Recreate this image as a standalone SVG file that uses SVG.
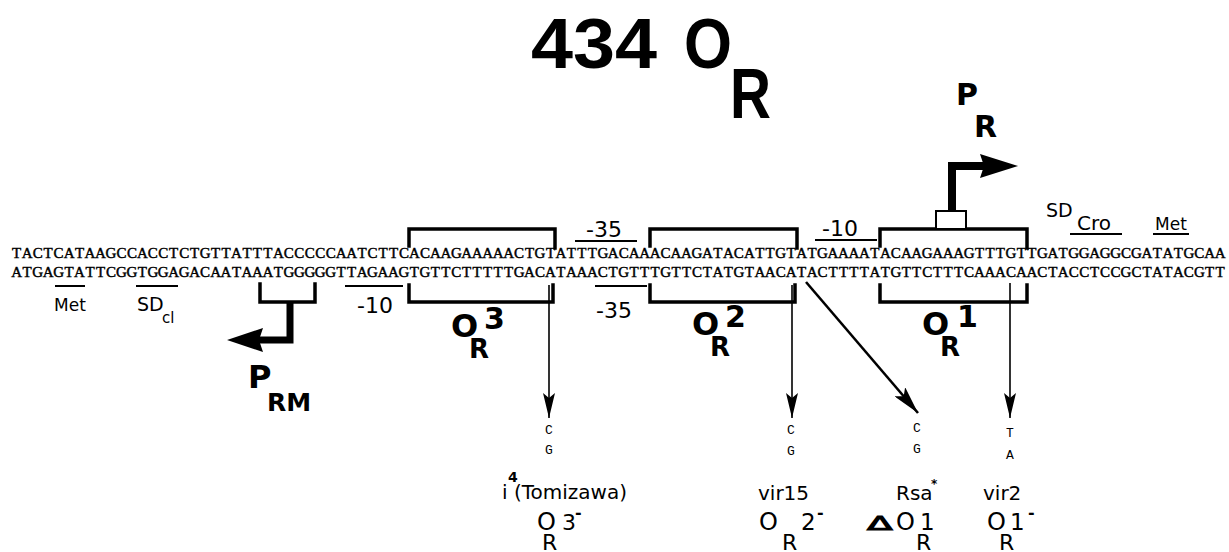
<svg xmlns="http://www.w3.org/2000/svg" width="1229" height="552" viewBox="0 0 1229 552">
<defs>
<style>
.seq{font-family:"Liberation Serif","Times New Roman",serif;font-size:15px;fill:#000;stroke:#000;stroke-width:0.45;text-anchor:middle}
.base{font-family:"Liberation Mono","Courier New",monospace;font-size:13px;fill:#000;text-anchor:middle}
.lbl{font-family:"DejaVu Sans","Liberation Sans",sans-serif;fill:#000}
.bold{font-weight:bold}
.title{font-family:"Liberation Sans",Arial,sans-serif;font-weight:bold;fill:#000}
.brk{fill:none;stroke:#000;stroke-width:3.5;stroke-linecap:square}
.ul{stroke:#000;stroke-width:2}
.thin{stroke:#000;stroke-width:1.6;fill:none}
.thick{stroke:#000;fill:none;stroke-linejoin:miter}
</style>
<marker id="ah" markerUnits="userSpaceOnUse" viewBox="0 0 25 12" refX="25" refY="6" markerWidth="25" markerHeight="12" orient="auto">
<path d="M0,0 L25,6 L0,12 L5,6 z" fill="#000"/>
</marker>
<marker id="ahBig" markerUnits="userSpaceOnUse" viewBox="0 0 28 14" refX="28" refY="7" markerWidth="28" markerHeight="14" orient="auto">
<path d="M0,0 L28,7 L0,14 L6,7 z" fill="#000"/>
</marker>
</defs>
<rect width="1229" height="552" fill="#fff"/>

<g id="title">
<text class="title" x="531" y="68" font-size="71" textLength="126" lengthAdjust="spacingAndGlyphs">434</text>
<text class="title" x="684" y="68" font-size="71" textLength="48" lengthAdjust="spacingAndGlyphs">O</text>
<text class="title" x="730" y="118" font-size="70" textLength="41" lengthAdjust="spacingAndGlyphs">R</text>
</g>

<g id="sequence">
<text class="seq" y="258" x="16.7 27.2 37.7 48.1 58.6 69.1 79.5 90 100.5 110.9 121.4 131.9 142.3 152.8 163.2 173.7 184.2 194.6 205.1 215.6 226 236.5 247 257.4 267.9 278.4 288.8 299.3 309.8 320.2 330.7 341.2 351.6 362.1 372.5 383 393.5 403.9 414.4 424.9 435.3 445.8 456.3 466.7 477.2 487.7 498.1 508.6 519.1 529.5 540 550.5 560.9 571.4 581.8 592.3 602.8 613.2 623.7 634.2 644.6 655.1 665.6 676 686.5 697 707.4 717.9 728.4 738.8 749.3 759.8 770.2 780.7 791.1 801.6 812.1 822.5 833 843.5 853.9 864.4 874.9 885.3 895.8 906.3 916.7 927.2 937.7 948.1 958.6 969.1 979.5 990 1000.4 1010.9 1021.4 1031.8 1042.3 1052.8 1063.2 1073.7 1084.2 1094.6 1105.1 1115.6 1126 1136.5 1147 1157.4 1167.9 1178.4 1188.8 1199.3 1209.7 1220.2">TACTCATAAGCCACCTCTGTTATTTACCCCCAATCTTCACAAGAAAAACTGTATTTGACAAACAAGATACATTGTATGAAAATACAAGAAAGTTTGTTGATGGAGGCGATATGCAA</text>
<text class="seq" y="277" x="16.7 27.2 37.7 48.1 58.6 69.1 79.5 90 100.5 110.9 121.4 131.9 142.3 152.8 163.2 173.7 184.2 194.6 205.1 215.6 226 236.5 247 257.4 267.9 278.4 288.8 299.3 309.8 320.2 330.7 341.2 351.6 362.1 372.5 383 393.5 403.9 414.4 424.9 435.3 445.8 456.3 466.7 477.2 487.7 498.1 508.6 519.1 529.5 540 550.5 560.9 571.4 581.8 592.3 602.8 613.2 623.7 634.2 644.6 655.1 665.6 676 686.5 697 707.4 717.9 728.4 738.8 749.3 759.8 770.2 780.7 791.1 801.6 812.1 822.5 833 843.5 853.9 864.4 874.9 885.3 895.8 906.3 916.7 927.2 937.7 948.1 958.6 969.1 979.5 990 1000.4 1010.9 1021.4 1031.8 1042.3 1052.8 1063.2 1073.7 1084.2 1094.6 1105.1 1115.6 1126 1136.5 1147 1157.4 1167.9 1178.4 1188.8 1199.3 1209.7 1220.2">ATGAGTATTCGGTGGAGACAATAAATGGGGGTTAGAAGTGTTCTTTTTGACATAAACTGTTTGTTCTATGTAACATACTTTTATGTTCTTTCAAACAACTACCTCCGCTATACGTT</text>
</g>

<g id="OR3">
<path class="brk" d="M409,246 V229 H555 V248"/>
<path class="brk" d="M409,285 V302 H553 V285"/>
<text class="lbl bold" x="451" y="337" font-size="32">O</text>
<text class="lbl bold" x="469" y="358" font-size="26">R</text>
<text class="lbl bold" x="484" y="329" font-size="30">3</text>
</g>

<g id="OR2">
<path class="brk" d="M650,246 V229 H797 V248"/>
<path class="brk" d="M650,285 V302 H795 V285"/>
<text class="lbl bold" x="692" y="335" font-size="32">O</text>
<text class="lbl bold" x="710" y="356" font-size="26">R</text>
<text class="lbl bold" x="725" y="327" font-size="30">2</text>
</g>

<g id="OR1">
<path class="brk" d="M880,246 V229 H1027 V248"/>
<path class="brk" d="M880,285 V302 H1027 V285"/>
<text class="lbl bold" x="922" y="335" font-size="32">O</text>
<text class="lbl bold" x="940" y="356" font-size="26">R</text>
<text class="lbl bold" x="957" y="327" font-size="30">1</text>
</g>

<g id="PR">
<rect x="936" y="211" width="30" height="18" fill="#fff" stroke="#000" stroke-width="2"/>
<path class="thick" stroke-width="8" d="M952,211 V166 H984"/>
<polygon points="1018,166 980,154 984,166 980,178" fill="#000"/>
<text class="lbl bold" x="956" y="105" font-size="30">P</text>
<text class="lbl bold" x="974" y="137" font-size="30">R</text>
</g>

<g id="PRM">
<path class="brk" d="M260,284 V302 H315 V284"/>
<path class="thick" stroke-width="7" d="M290,302 V340 H258"/>
<polygon points="227,340 263,328 259,340 263,352" fill="#000"/>
<text class="lbl bold" x="248" y="388" font-size="32">P</text>
<text class="lbl bold" x="267" y="411" font-size="25">RM</text>
</g>

<g id="promoter-labels">
<line class="ul" x1="575" y1="241" x2="637" y2="241"/>
<text class="lbl" x="604" y="237" font-size="22" text-anchor="middle">-35</text>
<line class="ul" x1="815" y1="240" x2="877" y2="240"/>
<text class="lbl" x="840" y="236" font-size="22" text-anchor="middle">-10</text>
<line class="ul" x1="345" y1="286" x2="403" y2="286"/>
<text class="lbl" x="375" y="313" font-size="22" text-anchor="middle">-10</text>
<line class="ul" x1="595" y1="286" x2="647" y2="286"/>
<text class="lbl" x="614" y="318" font-size="22" text-anchor="middle">-35</text>
<line class="ul" x1="55" y1="286" x2="85" y2="286"/>
<text class="lbl" x="70" y="311" font-size="17" text-anchor="middle">Met</text>
<line class="ul" x1="136" y1="286" x2="178" y2="286"/>
<text class="lbl" x="137" y="311" font-size="19">SD</text>
<text class="lbl" x="162" y="323" font-size="15">cl</text>
<text class="lbl" x="1046" y="217" font-size="19">SD</text>
<text class="lbl" x="1077" y="230" font-size="20">Cro</text>
<line class="ul" x1="1070" y1="234" x2="1122" y2="234"/>
<text class="lbl" x="1171" y="230" font-size="17" text-anchor="middle">Met</text>
<line class="ul" x1="1153" y1="234" x2="1189" y2="234"/>
</g>

<g id="connectors">
<line class="thin" x1="549" y1="285" x2="549" y2="418" marker-end="url(#ah)"/>
<line class="thin" x1="792" y1="285" x2="792" y2="418" marker-end="url(#ah)"/>
<line class="thin" x1="1010" y1="283" x2="1010" y2="418" marker-end="url(#ah)"/>
<line stroke="#000" stroke-width="2.6" x1="806" y1="282" x2="918" y2="413" marker-end="url(#ahBig)"/>
</g>

<g id="mut-OR3">
<text class="base" x="549" y="434">C</text>
<text class="base" x="549" y="454">G</text>
<text class="lbl bold" x="508" y="482" font-size="14">4</text>
<text class="lbl" x="502" y="499" font-size="20">i (Tomizawa)</text>
<text class="lbl" x="537" y="530" font-size="24">O</text>
<text class="lbl" x="562" y="530" font-size="22">3</text>
<text class="lbl bold" x="575" y="518" font-size="16">-</text>
<text class="lbl" x="542" y="550" font-size="22">R</text>
</g>

<g id="mut-vir15">
<text class="base" x="791" y="434">C</text>
<text class="base" x="791" y="455">G</text>
<text class="lbl" x="758" y="500" font-size="20">vir15</text>
<text class="lbl" x="759" y="530" font-size="24">O</text>
<text class="lbl" x="801" y="530" font-size="23">2</text>
<text class="lbl bold" x="817" y="518" font-size="16">-</text>
<text class="lbl" x="782" y="550" font-size="22">R</text>
</g>

<g id="mut-Rsa">
<text class="base" x="917" y="432">C</text>
<text class="base" x="917" y="453">G</text>
<text class="lbl" x="896" y="500" font-size="20">Rsa</text>
<text class="lbl bold" x="931" y="488" font-size="12">*</text>
<text class="lbl" x="0" y="0" font-size="25" stroke="#000" stroke-width="1.3" transform="translate(867,530) scale(1.5,0.8)">Δ</text>
<text class="lbl" x="896" y="530" font-size="24">O</text>
<text class="lbl" x="920" y="530" font-size="23">1</text>
<text class="lbl" x="916" y="550" font-size="22">R</text>
</g>

<g id="mut-vir2">
<text class="base" x="1010" y="437">T</text>
<text class="base" x="1010" y="459">A</text>
<text class="lbl" x="983" y="500" font-size="20">vir2</text>
<text class="lbl" x="987" y="530" font-size="24">O</text>
<text class="lbl" x="1010" y="530" font-size="23">1</text>
<text class="lbl bold" x="1028" y="518" font-size="16">-</text>
<text class="lbl" x="999" y="550" font-size="22">R</text>
</g>
</svg>
